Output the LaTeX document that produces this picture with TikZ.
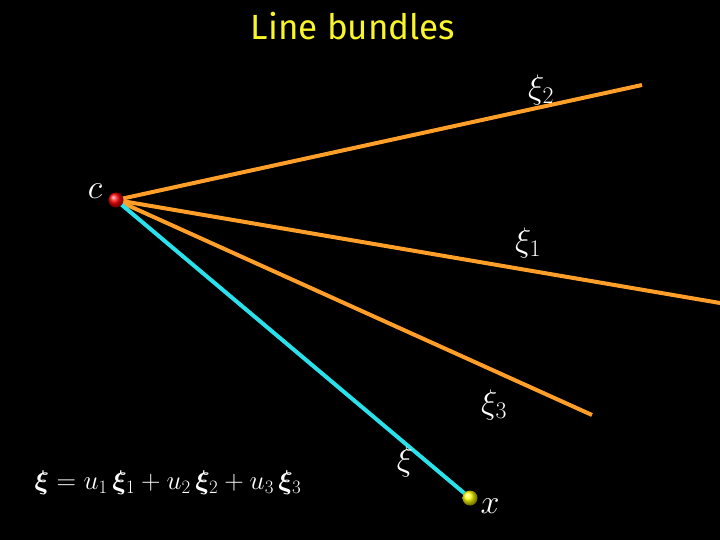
\RequirePackage{fix-cm}
\documentclass[tikz,border=0pt]{standalone}
\usepackage{amsmath,bm}
\usepackage{fontspec}
\setmainfont{Liberation Serif}
\newfontfamily\titlefont{Fira Sans}
\usetikzlibrary{positioning,calc}
\definecolor{bundle}{RGB}{255,158,40}
\definecolor{fibre}{RGB}{40,225,235}
\definecolor{titlecol}{RGB}{250,245,40}

\begin{document}
\begin{tikzpicture}[x=1pt, y=-1pt,
  ray/.style={bundle, line width=4pt},
  sect/.style={fibre, line width=4pt},
  lbl/.style={white, font=\fontsize{34}{36}\selectfont, inner sep=0pt},
  pt/.style={circle, inner sep=0pt, minimum size=15pt},
  ttl/.style={titlecol, font=\titlefont\fontsize{35}{37}\selectfont}]
\fill[black] (0,0) rectangle (720,540);
\useasboundingbox (0,0) rectangle (720,540);
\node[ttl] (title) at (353,26) {Line bundles};
% base point and the three directions
\node[pt] (c) at (116,200) {};
\coordinate (e2) at (642,85);
\coordinate (e1) at (720,303);
\coordinate (e3) at (592,415);
\node[pt] (x) at (470,498) {};
\draw[ray] (c.center) -- (e2);
\draw[ray] (c.center) -- (e1);
\draw[ray] (c.center) -- (e3);
\draw[sect] (c.center) -- (x.center);
\shade[ball color=red] (c.center) circle (7.5pt);
\shade[ball color=yellow] (x.center) circle (7.5pt);
% labels
\node[lbl] (lc) at (95,191) {$c$};
\node[lbl] (lx) at (490,506) {$x$};
\node[lbl] (l2) at (541,90) {$\xi_2$};
\node[lbl] (l1) at (528,243) {$\xi_1$};
\node[lbl] (l3) at (494,405) {$\xi_3$};
\node[lbl] (lxi) at (405,462) {$\xi$};
\node[lbl, font=\fontsize{27}{29}\selectfont] (eq) at (168,483)
  {$\bm{\xi} = u_1\,\bm{\xi}_1 + u_2\,\bm{\xi}_2 + u_3\,\bm{\xi}_3$};
\end{tikzpicture}
\end{document}
